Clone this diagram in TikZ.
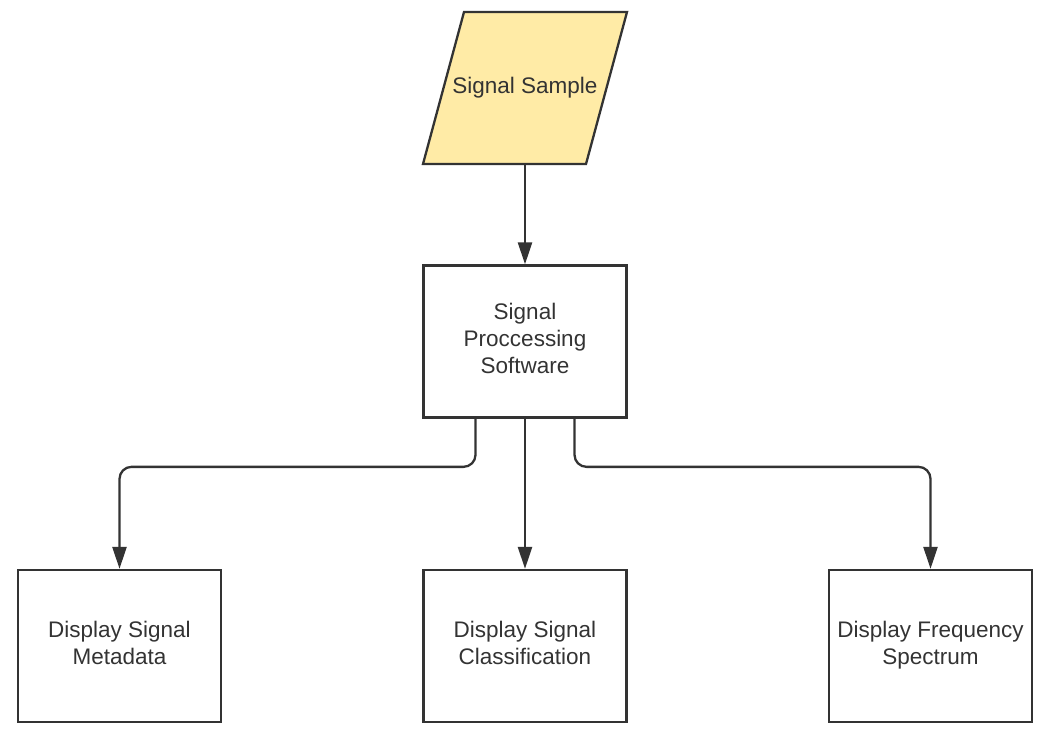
\documentclass[tikz,border=0pt]{standalone}
\usepackage{fontspec}
\setmainfont{Liberation Sans}
\usetikzlibrary{arrows.meta,positioning}
\definecolor{edge}{HTML}{333333}
\definecolor{sample}{HTML}{FFEBA6}
\begin{document}
\begin{tikzpicture}[x=1pt,y=-1pt,
  box/.style={draw=edge,line width=2.3pt,minimum width=203pt,minimum height=152pt,inner sep=0pt},
  lbl/.style={align=center,text=edge,font=\fontsize{22.5}{27}\selectfont,inner sep=0pt,yshift=3pt},
  conn/.style={draw=edge,line width=2.3pt,-{Triangle[length=22pt,width=14pt]}},
  rc/.style={rounded corners=12pt}]
\useasboundingbox (0,0) rectangle (1046,737);
\draw[edge,line width=2.3pt,fill=sample] (464,12) -- (627,12) -- (586,164) -- (423,164) -- cycle;
\node[lbl] (ss) at (525,91) {Signal Sample};
\coordinate (ssb) at (525,164);
\node[box] (sp) at (525,341.5) {};
\node[box] (m) at (119.5,646) {};
\node[box] (c) at (525,646) {};
\node[box] (f) at (930.5,646) {};
\node[lbl] (spt) at (sp.center) {Signal\\Proccessing\\Software};
\node[lbl] (mt) at (m.center) {Display Signal\\Metadata};
\node[lbl] (ct) at (c.center) {Display Signal\\Classification};
\node[lbl,yshift=-2pt] (ft) at (f.center) {Display Frequency\\Spectrum};
\draw[conn] (ssb) -- (sp.north);
\draw[conn] (sp.south) -- (c.north);
\draw[conn,rc] ([xshift=-49.5pt]sp.south) |- ([yshift=102pt]m.north) -- (m.north);
\draw[conn,rc] ([xshift=49.5pt]sp.south) |- ([yshift=102pt]f.north) -- (f.north);
\end{tikzpicture}
\end{document}
